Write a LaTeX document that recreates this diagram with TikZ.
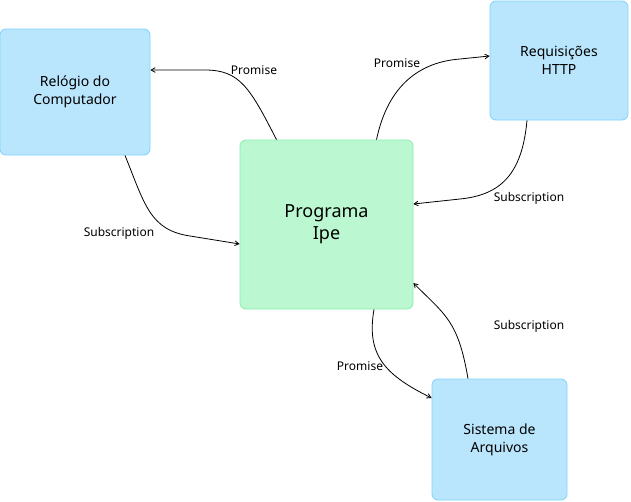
\documentclass[tikz,border=0pt]{standalone}
\usepackage{fontspec}
\setmainfont{Noto Sans}
\usepackage{xcolor}
\usepackage{tikz}
\usetikzlibrary{shapes.geometric, arrows}
\definecolor{skyfill}{HTML}{BAE6FD}
\definecolor{skyline}{HTML}{7DD3FC}
\definecolor{greenfill}{HTML}{BBF7D0}
\definecolor{greenline}{HTML}{86EFAC}
\tikzstyle{source} = [rectangle, rounded corners=6pt, text centered, align=center, draw=skyline, line width=0.8pt, fill=skyfill, font=\fontsize{14}{18}\selectfont]
\tikzstyle{program} = [rectangle, rounded corners=6pt, text centered, align=center, draw=greenline, line width=0.8pt, fill=greenfill, font=\fontsize{18}{22}\selectfont]
\tikzstyle{arrow} = [line width=0.8pt, ->, >=angle 60]
\tikzstyle{edgelabel} = [font=\fontsize{12}{14}\selectfont]

\begin{document}
\begin{tikzpicture}[x=1pt, y=-1pt]
\useasboundingbox (0,0) rectangle (631,501);

% Nodes
\node (clock) [source, minimum width=150pt, minimum height=126pt] at (75,92) {\raisebox{-3pt}{Relógio do}\\\raisebox{-3pt}{Computador}};
\node (http) [source, minimum width=138pt, minimum height=119pt] at (559,60.5) {\raisebox{-3pt}{Requisições}\\\raisebox{-3pt}{HTTP}};
\node (ipe) [program, minimum width=173pt, minimum height=169pt] at (326.5,224.5) {\raisebox{-4pt}{Programa}\\\raisebox{-4pt}{Ipe}};
\node (files) [source, minimum width=135pt, minimum height=121pt] at (499.5,439.5) {\raisebox{-3pt}{Sistema de}\\\raisebox{-3pt}{Arquivos}};

% Labels
\node (lclock) [edgelabel] at (254,70) {Promise};
\node (lhttp) [edgelabel] at (397,63) {Promise};
\node (lhttpsub) [edgelabel] at (529,198) {Subscription};
\node (lclocksub) [edgelabel] at (119,233) {Subscription};
\node (lfiles) [edgelabel] at (360,366) {Promise};
\node (lfilessub) [edgelabel] at (529,326) {Subscription};

% Arrows
\draw [arrow] ([xshift=-50pt]ipe.north) .. controls (250,88) and (240,70) .. (205,70) -- ([yshift=22pt]clock.east);
\draw [arrow] ([xshift=50pt]ipe.north) .. controls (388,85) and (420,62) .. (460,59) -- ([yshift=4.5pt]http.west);
\draw [arrow] ([xshift=-32pt]http.south) .. controls (522,175) and (500,195) .. (460,199) -- ([yshift=20.5pt]ipe.east);
\draw [arrow] ([xshift=50pt]clock.south) .. controls (145,205) and (150,230) .. (190,236) -- ([yshift=-19.5pt]ipe.west);
\draw [arrow] ([xshift=47.5pt]ipe.south) .. controls (366,355) and (385,375) .. ([yshift=41.5pt]files.west);
\draw [arrow] ([xshift=-31.5pt]files.north) .. controls (458,320) and (445,315) .. ([yshift=-58.5pt]ipe.east);

\end{tikzpicture}
\end{document}
